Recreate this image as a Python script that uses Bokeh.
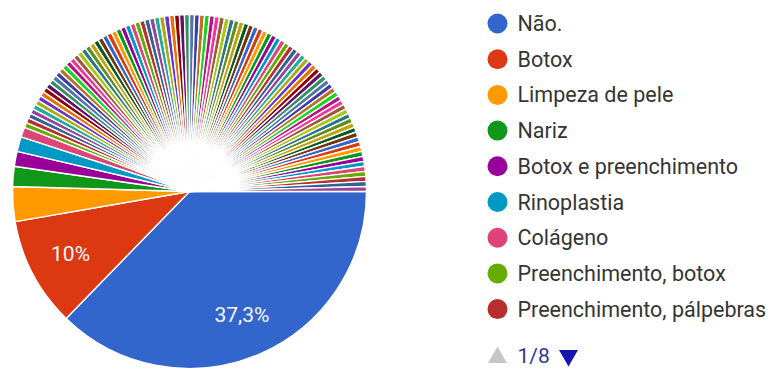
import math
from bokeh.plotting import figure
from bokeh.models import Range1d, ColumnDataSource
from bokeh.core.properties import value
from bokeh.embed import file_html
from bokeh.resources import INLINE

# ---- data (response counts, 220 responses) ----
named_labels = ["Não.", "Botox", "Limpeza de pele", "Nariz", "Botox e preenchimento",
                "Rinoplastia", "Colágeno", "Preenchimento, botox", "Preenchimento, pálpebras"]
named_counts = [82, 22, 7, 4, 3, 3, 2, 1, 1]
# the remaining answers, one response each (not listed on legend page 1)
other_counts = [1, 1, 1, 1, 1, 1, 1, 1, 1, 1, 1, 1, 1, 1, 1, 1, 1, 1, 1, 1,
                1, 1, 1, 1, 1, 1, 1, 1, 1, 1, 1, 1, 1, 1, 1, 1, 1, 1, 1, 1,
                1, 1, 1, 1, 1, 1, 1, 1, 1, 1, 1, 1, 1, 1, 1, 1, 1, 1, 1, 1,
                1, 1, 1, 1, 1, 1, 1, 1, 1, 1, 1, 1, 1, 1, 1, 1, 1, 1, 1, 1,
                1, 1, 1, 1, 1, 1, 1, 1, 1, 1, 1, 1, 1, 1, 1]
legend_page = "1/8"

palette = ["#3366cc", "#dc3912", "#ff9900", "#109618", "#990099", "#0099c6", "#dd4477",
           "#66aa00", "#b82e2e", "#316395", "#994499", "#22aa99", "#aaaa11", "#6633cc",
           "#e67300", "#8b0707", "#651067", "#329262", "#5574a6", "#3b3eac", "#b77322",
           "#16d620", "#b91383", "#f4359e", "#9c5935", "#a9c413", "#2a778d", "#668d1c",
           "#bea413", "#0c5922", "#743411"]

W, H = 779, 368
CX, CY, R = 189, H - 191, 177

counts = named_counts + other_counts
total = sum(counts)
starts, ends, colors = [], [], []
cum = 0
for i, c in enumerate(counts):
    a0 = cum / total * 2 * math.pi
    cum += c
    a1 = cum / total * 2 * math.pi
    # clockwise from 3 o'clock
    starts.append(-a1)
    ends.append(-a0)
    colors.append(palette[i % len(palette)])

p = figure(width=W, height=H, x_range=Range1d(0, W), y_range=Range1d(0, H),
           output_backend="svg", toolbar_location=None, min_border=0)
p.axis.visible = False
p.grid.visible = False
p.outline_line_color = None
p.background_fill_color = "white"
p.border_fill_color = "white"

src = ColumnDataSource(dict(x=[CX] * len(counts), y=[CY] * len(counts),
                            s=starts, e=ends, c=colors))
p.wedge(x="x", y="y", radius=R, start_angle="s", end_angle="e", fill_color="c",
        line_color="white", line_width=1.4, source=src)

# percentage labels for the large slices
lab_x, lab_y, lab_t = [], [], []
cum = 0
for c in named_counts[:2]:
    mid = (cum + c / 2) / total * 2 * math.pi
    cum += c
    pct = c / total * 100
    t = ("%.1f" % pct).replace(".", ",")
    if t.endswith(",0"):
        t = t[:-2]
    lab_x.append(CX + 0.76 * R * math.cos(-mid))
    lab_y.append(CY + 0.76 * R * math.sin(-mid))
    lab_t.append(t + "%")
p.text(x=lab_x, y=lab_y, text=lab_t, text_align="center", text_baseline="middle",
       text_color="#f4f6ff", text_font=value("Roboto"), text_font_size="21px")

# legend
LX, LY0, LDY = 497, H - 23, 35.7
ly = [LY0 - i * LDY for i in range(len(named_labels))]
p.scatter(x=[LX] * len(named_labels), y=ly, size=20, marker="circle",
          fill_color=palette[:len(named_labels)], line_color=None)
p.text(x=[LX + 20] * len(named_labels), y=ly, text=named_labels, text_align="left",
       text_baseline="middle", text_color="#353535", text_font=value("Roboto"),
       text_font_size="21.5px")

# pager
py = H - 357
p.scatter(x=[LX], y=[py], size=19, marker="triangle", fill_color="#c6c6c6", line_color=None)
p.text(x=[LX + 20], y=[py + 2], text=[legend_page], text_align="left", text_baseline="middle",
       text_color="#2d3a8c", text_font=value("Roboto"), text_font_size="21px")
p.scatter(x=[568], y=[py + 2], size=19, marker="inverted_triangle", fill_color="#1515b0",
          line_color=None)

open("out.html", "w").write(file_html(p, INLINE))
